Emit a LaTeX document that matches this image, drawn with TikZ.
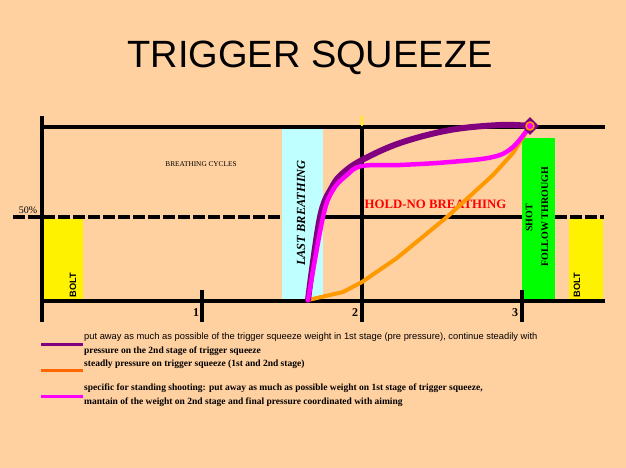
\documentclass[tikz,border=0pt]{standalone}
\usepackage{fontspec}
\setmainfont{Liberation Serif}
\setsansfont{Liberation Sans}
\usetikzlibrary{shapes.geometric}
\definecolor{bg}{RGB}{255,208,160}
\definecolor{lcyan}{RGB}{192,255,255}
\definecolor{pur}{RGB}{128,0,128}
\definecolor{mag}{RGB}{255,0,255}
\definecolor{orgc}{RGB}{255,153,0}
\definecolor{orgl}{RGB}{255,102,0}
\begin{document}
\begin{tikzpicture}[x=1pt,y=-1pt,
  ax/.style={line width=3.5pt},
  dsh/.style={line width=3.5pt,dash pattern=on 12pt off 3pt},
  lbl/.style={inner sep=0pt,font=\bfseries\fontsize{12}{14}\selectfont},
  vbox/.style={inner sep=0pt,rotate=90},
  leg/.style={inner sep=0pt,anchor=west,font=\bfseries\fontsize{9.5}{11}\selectfont},
  legline/.style={line width=3pt}]
\fill[bg] (0,0) rectangle (626,468);
\useasboundingbox (0,0) rectangle (626,468);
% boxes under the dashed line
\fill[yellow] (43,219) rectangle (83,300);
\fill[yellow] (569,219) rectangle (603,300);
% 50% line
\draw[dsh] (13,217) -- (283,217);
\draw[ax] (323,217) -- (522,217);
\draw[dsh] (555,217) -- (604,217);
% boxes over the line
\fill[lcyan] (282,129) rectangle (323,299);
\fill[green] (522,138) rectangle (555,300);
% axes
\draw[ax] (42,127) -- (605,127);
\draw[ax] (42,301) -- (605,301);
\draw[ax] (42,116) -- (42,322);
\draw[ax] (362,127) -- (362,322);
\draw[yellow,line width=2pt] (362,116) -- (362,126);
\draw[ax] (202,290) -- (202,322);
\draw[ax] (522,290) -- (522,322);
% texts
\node[inner sep=0pt,font=\sffamily\fontsize{38}{40}\selectfont] (title) at (310,58) {TRIGGER SQUEEZE};
\node[inner sep=0pt,font=\fontsize{7.3}{8}\selectfont] (cycles) at (201,164) {BREATHING CYCLES};
\node[inner sep=0pt,font=\fontsize{10}{12}\selectfont] (pct) at (28,210) {50\%};
\node[vbox,font=\sffamily\bfseries\fontsize{9.2}{11}\selectfont] (bolta) at (73,285) {BOLT};
\node[vbox,font=\sffamily\bfseries\fontsize{9.2}{11}\selectfont] (boltb) at (577,285) {BOLT};
\node[vbox,font=\bfseries\itshape\fontsize{12.4}{14}\selectfont] (last) at (301,213) {LAST BREATHING};
\node[vbox,font=\bfseries\fontsize{10}{12}\selectfont] (shot) at (529,218) {SHOT};
\node[vbox,font=\bfseries\fontsize{10}{12}\selectfont] (follow) at (545,217) {FOLLOW THROUGH};
\node[inner sep=0pt,text=red,font=\bfseries\fontsize{12.8}{14}\selectfont] (hold) at (435.5,204) {HOLD-NO BREATHING};
\node[lbl] (one) at (196,313) {1};
\node[lbl] (two) at (355,313) {2};
\node[lbl] (three) at (515,313) {3};
% curves
\coordinate (S) at (308,300);
\coordinate (E) at (530,126);
\draw[orgc,line width=4pt,line join=round] plot coordinates {(S) (343,292) (362,282) (397,258) (447,217) (493,175) (513,153) (E)};
\draw[pur,line width=6pt,line cap=round] plot[smooth,tension=0.6] coordinates {(S) (320,217) (332,187) (343,173) (362,160) (400,143) (450,130) (500,125) (E)};
\draw[mag,line width=4.5pt,line cap=round] plot[smooth,tension=0.6] coordinates {(S) (323,217) (333,190) (347,175) (362,166) (400,165) (450,162) (493,157) (513,147) (E)};
\node[diamond,fill=pur,inner sep=0pt,minimum size=18pt] (mark) at (E) {};
\draw[orgc,fill=mag,line width=1.5pt] (mark.center) circle (4pt);
% legend
\coordinate (la) at (41,344); \coordinate (lb) at (83,344);
\coordinate (lc) at (41,370); \coordinate (ld) at (83,370);
\coordinate (le) at (41,396); \coordinate (lf) at (83,396);
\draw[legline,pur] (la) -- (lb);
\draw[legline,orgl] (lc) -- (ld);
\draw[legline,mag] (le) -- (lf);
\node[leg,font=\sffamily\fontsize{9.35}{11}\selectfont] (t1) at (84,337) {put away as much as possible of the trigger squeeze weight in 1st stage (pre pressure), continue steadily with};
\node[leg] (t2) at (84,351) {pressure on the 2nd stage of trigger squeeze};
\node[leg] (t3) at (84,364) {steadly pressure on trigger squeeze (1st and 2nd stage)};
\node[leg] (t4) at (84,388) {specific for standing shooting: put away as much as possible weight on 1st stage of trigger squeeze,};
\node[leg] (t5) at (84,402) {mantain of the weight on 2nd stage and final pressure coordinated with aiming};
\end{tikzpicture}
\end{document}
